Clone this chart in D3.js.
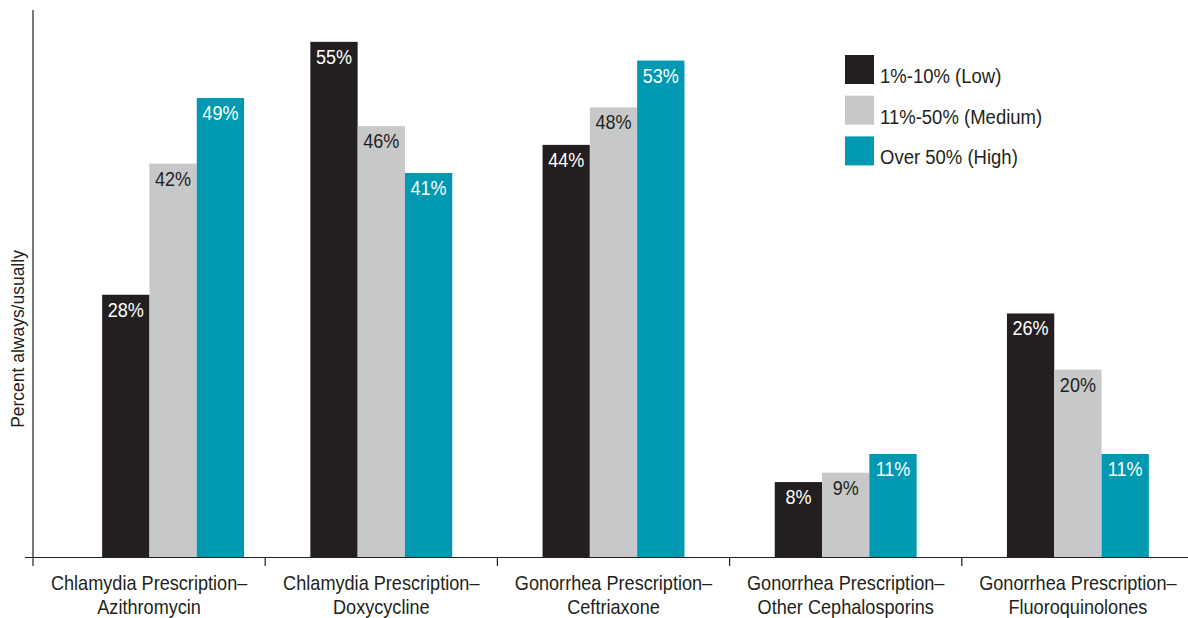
<!DOCTYPE html>
<html>
<head>
<meta charset="utf-8">
<script src="https://cdn.jsdelivr.net/npm/d3@7"></script>
<style>
  html, body { margin: 0; padding: 0; background: #fff; }
  svg { display: block; }
  text { font-family: "Liberation Sans", Arial, Helvetica, sans-serif; fill: #231f20; }
</style>
</head>
<body>
<svg id="chart" width="1188" height="618"></svg>
<script>
// Prescribing practice by share of patients, grouped by drug
const categories = [
  ["Chlamydia Prescription–", "Azithromycin"],
  ["Chlamydia Prescription–", "Doxycycline"],
  ["Gonorrhea Prescription–", "Ceftriaxone"],
  ["Gonorrhea Prescription–", "Other Cephalosporins"],
  ["Gonorrhea Prescription–", "Fluoroquinolones"]
];
const seriesNames = ["1%-10% (Low)", "11%-50% (Medium)", "Over 50% (High)"];
const lowValues    = [28, 55, 44, 8, 26];
const mediumValues = [42, 46, 48, 9, 20];
const highValues   = [49, 41, 53, 11, 11];
const seriesColors = ["#231f20", "#c7c8ca", "#0099b1"];
const labelColors  = ["#ffffff", "#231f20", "#ffffff"];
const yTitle = "Percent always/usually";

const seriesValues = [lowValues, mediumValues, highValues];

// condensed look: narrow the regular sans horizontally
const narrow = (sx, cx, cy, rot) =>
  `translate(${cx},${cy})${rot ? ` rotate(${rot})` : ""} scale(${sx},1)`;

const svg = d3.select("#chart");
const x0 = 33, x1 = 1194, yBase = 557, yTop = 10;

const catKeys = categories.map((c, i) => i);
const x = d3.scaleBand().domain(catKeys).range([x0, x1]).padding(0);
const barW = 47.3;
const inner = d3.scaleBand().domain(d3.range(seriesNames.length))
  .range([0, barW * seriesNames.length]).padding(0);
const y = d3.scaleLinear().domain([0, 58.4]).range([yBase, yTop]);

// the first group sits a little to the right of its band centre
const groupShift = i => (i === 0 ? 24 : 0);
const groupLeft = i => x(i) + x.bandwidth() / 2 - inner.range()[1] / 2 + groupShift(i);

// bars
const rows = [];
catKeys.forEach(ci => {
  seriesValues.forEach((vals, si) => rows.push({ ci, si, v: vals[ci] }));
});

const g = svg.append("g");
g.selectAll("rect.bar").data(rows).join("rect")
  .attr("class", "bar")
  .attr("x", d => groupLeft(d.ci) + inner(d.si))
  .attr("y", d => y(d.v))
  .attr("width", inner.bandwidth())
  .attr("height", d => yBase - y(d.v))
  .attr("fill", d => seriesColors[d.si]);

g.selectAll("text.val").data(rows).join("text")
  .attr("class", "val")
  .attr("transform", d => narrow(0.88,
    groupLeft(d.ci) + inner(d.si) + inner.bandwidth() / 2, y(d.v) + 22))
  .attr("text-anchor", "middle")
  .style("font-size", "20.5px")
  .style("fill", d => labelColors[d.si])
  .text(d => d.v + "%");

// axes
const axG = svg.append("g").attr("transform", `translate(0,${yBase})`);
axG.append("line").attr("x1", 25).attr("x2", 1188).attr("y1", 0.5).attr("y2", 0.5)
  .attr("stroke", "#231f20").attr("stroke-width", 1.2);
axG.selectAll("line.tick").data(catKeys).join("line")
  .attr("class", "tick")
  .attr("x1", d => x(d)).attr("x2", d => x(d))
  .attr("y1", 0).attr("y2", 9)
  .attr("stroke", "#231f20").attr("stroke-width", 1.2);

const labels = axG.selectAll("text.cat").data(catKeys).join("text")
  .attr("class", "cat")
  .attr("transform", d => narrow(0.93, x(d) + x.bandwidth() / 2, 0))
  .attr("text-anchor", "middle")
  .style("font-size", "19.5px");
labels.each(function(d) {
  const t = d3.select(this);
  categories[d].forEach((line, li) => {
    t.append("tspan")
      .attr("x", 0)
      .attr("y", 33 + li * 24.5)
      .text(line);
  });
});

svg.append("line")
  .attr("x1", x0).attr("x2", x0)
  .attr("y1", yTop).attr("y2", yBase)
  .attr("stroke", "#231f20").attr("stroke-width", 1.2);

svg.append("text")
  .attr("transform", narrow(0.92, 24, (250 + 428) / 2, -90))
  .attr("text-anchor", "middle")
  .style("font-size", "19px")
  .text(yTitle);

// legend
const leg = svg.append("g").attr("transform", "translate(845,55)");
const li = leg.selectAll("g").data(seriesNames).join("g")
  .attr("transform", (d, i) => `translate(0,${i * 40.7})`);
li.append("rect").attr("width", 29).attr("height", 29)
  .attr("fill", (d, i) => seriesColors[i]);
li.append("text")
  .attr("transform", narrow(0.95, 35, 28))
  .style("font-size", "19.5px")
  .text(d => d);
</script>
</body>
</html>
